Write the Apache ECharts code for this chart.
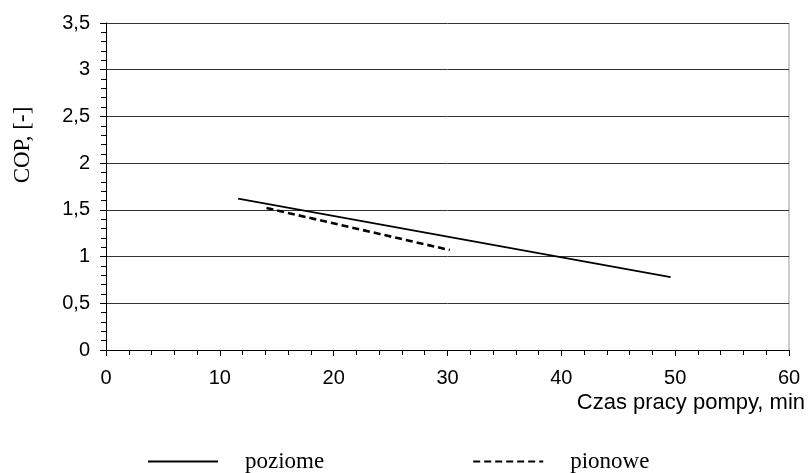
<!DOCTYPE html>
<html>
<head>
<meta charset="utf-8">
<script src="https://cdn.jsdelivr.net/npm/echarts@6/dist/echarts.min.js"></script>
<style>
  html, body { margin: 0; padding: 0; background: #fff; }
  #chart { width: 809px; height: 473px; }
</style>
</head>
<body>
<div id="chart"></div>
<script>
// czas pracy pompy [min] i COP dla obu wymiennikow
const poziomeX = [11.6, 49.6];
const poziomeY = [1.62, 0.78];
const pionoweX = [14.1, 30.2];
const pionoweY = [1.52, 1.07];
const seriesNames = ["poziome", "pionowe"];

const toPairs = (xs, ys) => xs.map((x, i) => [x, ys[i]]);
const comma = (v) => String(v).replace(".", ",");

const myChart = echarts.init(document.getElementById("chart"));
const option = {
  animation: false,
  backgroundColor: "#fff",
  grid: { left: 106, right: 20, top: 23, bottom: 123, outerBoundsMode: "none", containLabel: false },
  legend: {
    left: 142,
    top: 445,
    itemWidth: 70,
    itemHeight: 14,
    itemGap: 148,
    itemStyle: { opacity: 0 },
    textStyle: { fontFamily: "Liberation Serif", fontSize: 23, color: "#000", padding: [0, 0, 0, 22] },
    data: seriesNames,
  },
  xAxis: {
    type: "value",
    min: 0,
    max: 60,
    interval: 10,
    name: "Czas pracy pompy, min",
    nameLocation: "end",
    nameGap: 16,
    nameTextStyle: {
      fontFamily: "Liberation Sans",
      fontSize: 22,
      color: "#000",
      align: "right",
      verticalAlign: "top",
      padding: [42, 0, 0, 0],
    },
    axisLine: { onZero: false, lineStyle: { color: "#000", width: 1 } },
    axisTick: { length: 6, lineStyle: { color: "#000" } },
    minorTick: { show: true, splitNumber: 5, length: 5, lineStyle: { color: "#000" } },
    axisLabel: { fontFamily: "Liberation Sans", fontSize: 20, color: "#000", margin: 18 },
    splitLine: { show: false },
  },
  yAxis: {
    type: "value",
    min: 0,
    max: 3.5,
    interval: 0.5,
    axisLine: { show: true, lineStyle: { color: "#000", width: 1 } },
    axisTick: { show: true, length: 6, lineStyle: { color: "#000" } },
    minorTick: { show: true, splitNumber: 5, length: 5, lineStyle: { color: "#000" } },
    axisLabel: { fontFamily: "Liberation Sans", fontSize: 20, color: "#000", margin: 16, formatter: comma },
    splitLine: { show: true, lineStyle: { color: "#333", width: 1 } },
  },
  graphic: [
    {
      type: "line",
      shape: { x1: 789, y1: 23, x2: 789, y2: 350 },
      style: { stroke: "#999", lineWidth: 1 },
    },
    {
      type: "text",
      x: 23,
      y: 145,
      rotation: Math.PI / 2,
      style: {
        text: "COP, [-]",
        fontFamily: "Liberation Serif",
        fontSize: 23,
        fill: "#000",
        align: "center",
        verticalAlign: "middle",
      },
    },
  ],
  series: [
    {
      name: seriesNames[0],
      type: "line",
      symbol: "none",
      data: toPairs(poziomeX, poziomeY),
      lineStyle: { color: "#000", width: 1.6, type: "solid" },
      itemStyle: { color: "#000" },
    },
    {
      name: seriesNames[1],
      type: "line",
      symbol: "none",
      data: toPairs(pionoweX, pionoweY),
      lineStyle: { color: "#000", width: 2.6, type: [7, 4] },
      itemStyle: { color: "#000" },
    },
  ],
};
myChart.setOption(option);
</script>
</body>
</html>
